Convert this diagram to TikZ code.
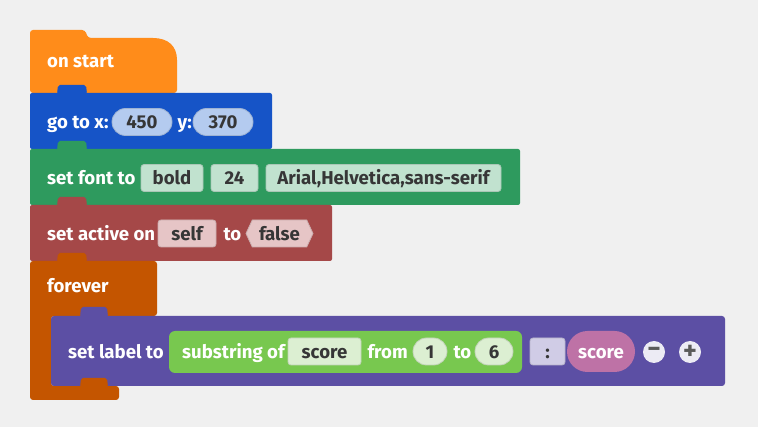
\documentclass[tikz,border=0pt]{standalone}
\usepackage{fontspec}
\setmainfont{Fira Sans}
\usetikzlibrary{positioning,shapes.symbols}
\definecolor{canvas}{HTML}{F0F0F0}
\definecolor{events}{HTML}{FF8C1A}
\definecolor{motion}{HTML}{1654C7}
\definecolor{looks}{HTML}{2E9A5E}
\definecolor{state}{HTML}{A54848}
\definecolor{loops}{HTML}{C45500}
\definecolor{sprite}{HTML}{5C4FA4}
\definecolor{strgreen}{HTML}{78C84F}
\definecolor{vars}{HTML}{BE72A6}
\definecolor{motionfield}{HTML}{B4CBEF}
\definecolor{looksfield}{HTML}{C1E2CF}
\definecolor{statefield}{HTML}{E6C5C6}
\definecolor{strfield}{HTML}{DCEFD2}
\definecolor{sepfield}{HTML}{D0CCE6}
\definecolor{btnfill}{HTML}{ECEBF4}
\definecolor{ink}{HTML}{363636}
\definecolor{ink2}{HTML}{5A5A5A}
\tikzset{
  font=\fontsize{18.6}{22}\selectfont\bfseries,
  lbl/.style={text=white, anchor=west, inner sep=0pt, text height=13.4pt, text depth=0pt},
  field/.style={fill=#1, draw=#1!88!black, line width=0.8pt, rounded corners=3pt, inner sep=0pt,
                text=ink, text height=13.4pt, text depth=0pt, minimum height=27pt},
  pill/.style={field=#1, rounded corners=13.5pt},
  boolfield/.style={signal, signal to=west and east, signal pointer angle=130, fill=statefield,
                    draw=statefield!88!black, line width=0.8pt, inner sep=0pt, text=ink,
                    text height=13.4pt, text depth=0pt, minimum height=27pt, minimum width=67pt},
  btn/.style={circle, fill=btnfill, minimum size=22pt, inner sep=0pt, text=ink2,
              font=\fontsize{26}{26}\selectfont\bfseries},
}
\begin{document}
\begin{tikzpicture}[x=1pt, y=-1pt]
\fill[canvas] (0,0) rectangle (758,427);
% block bodies
\fill[events, rounded corners=3pt] (30,93) -- (30,30) -- (85,30) -- (88,38) -- (150,38) [sharp corners]
  .. controls (168,38) and (177,46) .. (177,60) [rounded corners=3pt] -- (177,93) -- cycle;
\fill[motion, rounded corners=2pt] (30,93) rectangle (272,149);
\fill[looks, rounded corners=2pt] (30,149) rectangle (520,205);
\fill[state, rounded corners=2pt] (30,205) rectangle (332,261);
\fill[loops, rounded corners=3pt] (30,261) -- (157,261) -- (157,316) -- (51,316) -- (51,386)
  -- (119,386) -- (119,400) -- (30,400) -- cycle;
\fill[sprite, rounded corners=3pt] (51,316) rectangle (725,386);
% tabs
\foreach \y/\c in {93/motion,149/looks,205/state,261/loops}
  {\fill[\c, rounded corners=2pt] (57,\y+1) -- (58,\y-8) -- (86,\y-8) -- (87,\y+1) -- cycle;}
\fill[sprite, rounded corners=2pt] (80,317) -- (81,307) -- (107,307) -- (108,317) -- cycle;
\fill[loops, rounded corners=2pt] (80,387) -- (81,378) -- (107,378) -- (108,387) -- cycle;

\node[lbl] (onstart) at (47,61) {on start};

\node[lbl] (goto) at (47,122) {go to x:};
\node[pill=motionfield, minimum width=60pt] (xval) at (142,122) {450};
\node[lbl, right=5pt of xval] (ylbl) {y:};
\node[pill=motionfield, minimum width=60pt] (yval) at (223,122) {370};

\node[lbl] (setfont) at (47,178) {set font to};
\node[field=looksfield, minimum width=62pt] (weight) at (172,178) {bold};
\node[field=looksfield, minimum width=47pt] (size) at (234.5,178) {24};
\node[field=looksfield, minimum width=235pt] (family) at (383.5,178) {Arial,Helvetica,sans-serif};

\node[lbl] (setactive) at (47,233.5) {set active on};
\node[field=statefield, minimum width=58pt] (target) at (187,233.5) {self};
\node[lbl, right=7pt of target] (tolbl) {to};
\node[boolfield] (flag) at (279.5,233.5) {false};

\node[lbl] (forever) at (47,286) {forever};

\node[lbl] (setlabel) at (68,352) {set label to};
\node[fill=strgreen, rounded corners=6pt, minimum width=353pt, minimum height=42pt, inner sep=0pt] (substr) at (345.5,352) {};
\node[lbl] (substrlbl) at (182,352) {substring of};
\node[field=strfield, minimum width=73pt] (src) at (324.5,351.5) {score};
\node[lbl, right=6pt of src] (fromlbl) {from};
\node[pill=strfield, minimum width=34pt] (first) at (430,351.5) {1};
\node[lbl, right=6pt of first] (tolbl2) {to};
\node[pill=strfield, minimum width=38pt] (last) at (494,351.5) {6};
\node[field=sepfield, minimum width=35pt] (sep) at (547.5,351.5) {:};
\node[pill=vars, draw=none, minimum width=68pt, minimum height=41pt, rounded corners=20.5pt, text=white] (var) at (601,351.5) {score};
\node[btn] (minus) at (654,352) {−};
\node[btn] (plus) at (690,352) {+};
\end{tikzpicture}
\end{document}
